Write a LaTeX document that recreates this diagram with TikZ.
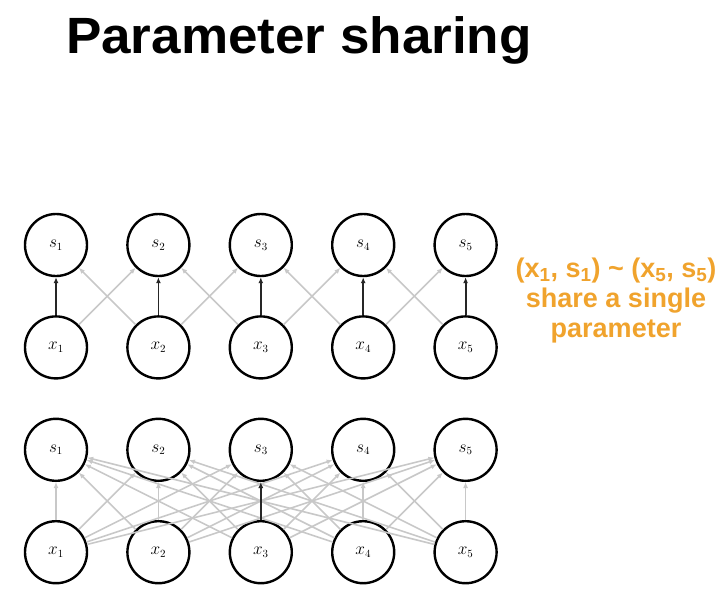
\documentclass[tikz,border=0pt]{standalone}
\usepackage{xcolor}
\usepackage{fontspec}
\newfontfamily\headfont{Liberation Sans}
\usepackage{tikz}
\usetikzlibrary{arrows.meta, positioning}

\definecolor{shareorange}{RGB}{240,163,45}
\definecolor{edgegrey}{RGB}{200,200,200}

\begin{document}
\begin{tikzpicture}[
        x=1pt, y=-1pt,
        >={Latex[length=6pt,width=5pt]},
        node distance=38pt,
        every node/.style={font=\fontsize{16}{19}\selectfont},
        unit/.style={circle, draw, line width=2.4pt, minimum size=62pt, inner sep=0pt},
        tied/.style={->, line width=1.8pt, black!85},
        free/.style={->, line width=1.6pt, edgegrey}
    ]
        \useasboundingbox (0,0) rectangle (727,603);
        \node[font=\headfont\bfseries\fontsize{51}{60}\selectfont, anchor=base, xscale=1.04] (title) at (299,53) {Parameter sharing};

        % shared weights
        \node[unit] (s1) at (56,245) {$s_1$};
        \node[unit, right=of s1] (s2) {$s_2$};
        \node[unit, right=of s2] (s3) {$s_3$};
        \node[unit, right=of s3] (s4) {$s_4$};
        \node[unit, right=of s4] (s5) {$s_5$};
        \node[unit, below=of s1] (x1) {$x_1$};
        \node[unit, right=of x1] (x2) {$x_2$};
        \node[unit, right=of x2] (x3) {$x_3$};
        \node[unit, right=of x3] (x4) {$x_4$};
        \node[unit, right=of x4] (x5) {$x_5$};

        % no sharing
        \node[unit, below=of x1] (t1) {$s_1$};
        \node[unit, right=of t1] (t2) {$s_2$};
        \node[unit, right=of t2] (t3) {$s_3$};
        \node[unit, right=of t3] (t4) {$s_4$};
        \node[unit, right=of t4] (t5) {$s_5$};
        \node[unit, below=of t1] (u1) {$x_1$};
        \node[unit, right=of u1] (u2) {$x_2$};
        \node[unit, right=of u2] (u3) {$x_3$};
        \node[unit, right=of u3] (u4) {$x_4$};
        \node[unit, right=of u4] (u5) {$x_5$};

        \foreach \i/\j in {1/2,2/1,2/3,3/2,3/4,4/3,4/5,5/4}
            \draw[free] (x\i) -- (s\j);
        \foreach \i in {1,...,5}
            \draw[tied] (x\i) -- (s\i);

        \foreach \i in {1,...,5}
            \foreach \j in {1,...,5}
                \draw[free] (u\i) -- (t\j);
        \draw[tied] (u3) -- (t3);

        % last line sits on the anchor
        \node[font=\headfont\bfseries\fontsize{27}{30}\selectfont, text=shareorange, align=center, anchor=base] (note) at (616,337)
            {(x\textsubscript{1}, s\textsubscript{1}) \textasciitilde{} (x\textsubscript{5}, s\textsubscript{5})\\ share a single\\ parameter};
    \end{tikzpicture}
\end{document}
